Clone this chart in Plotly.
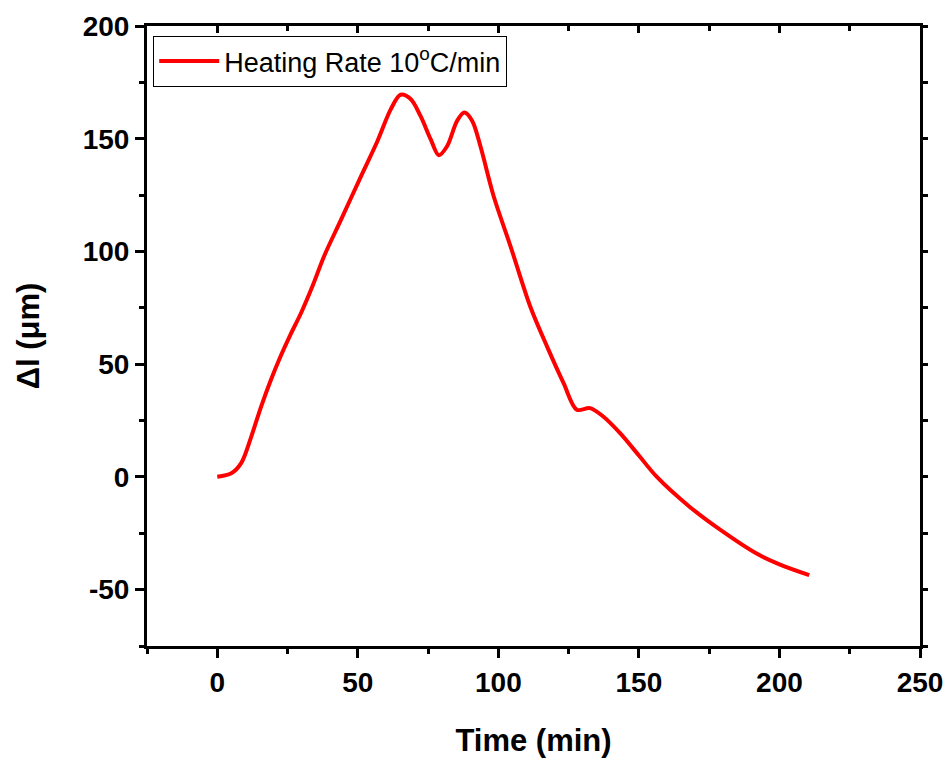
import plotly.graph_objects as go

time_min = [0, 5, 8.5, 12.1, 15.6, 19.1, 22, 26, 29.8, 34, 38, 44, 51, 57, 61.7, 65.2,
            68.8, 72.3, 75.9, 78.8, 81.8, 85.3, 87.9, 90.7, 93.6, 98.3, 104.3, 111.3,
            117.3, 123.2, 127.9, 132.6, 137.3, 143.3, 150, 156.3, 168, 179.9, 191.7,
            200, 210.6]
delta_l = [0.1, 1.6, 6.1, 17.9, 31.2, 43.1, 52, 63, 72.7, 85, 97.9, 114, 133, 149,
           163, 169.5, 167.6, 160.1, 149.8, 142.7, 146.8, 157.9, 161.6, 157.9, 146.8,
           124.6, 102.4, 75.7, 57.9, 41.6, 29.8, 30.5, 26.8, 19.4, 9.5, 0.1, -13.2,
           -24.3, -33.9, -38.8, -43.6]

x_ticks = [0, 50, 100, 150, 200, 250]
y_ticks = [-50, 0, 50, 100, 150, 200]
y_tick_text = ["-50", "0", "50", "100", "150", "200"]
series_name = "Heating Rate 10<sup>o</sup>C/min"

font_family = "Liberation Sans, Arial, sans-serif"

fig = go.Figure()
fig.add_trace(go.Scatter(x=time_min, y=delta_l, mode="lines", name=series_name,
                         line=dict(color="#ff0000", width=4, shape="spline", smoothing=0.9)))
# invisible trace to activate top/right axes
fig.add_trace(go.Scatter(x=[0], y=[0], xaxis="x2", yaxis="y2", mode="markers",
                         marker=dict(opacity=0), showlegend=False, hoverinfo="skip"))

common = dict(showgrid=False, zeroline=False, linecolor="black", linewidth=3, automargin=False)
fig.update_layout(
    width=951, height=758,
    margin=dict(l=147, r=31, t=26, b=112),
    plot_bgcolor="white", paper_bgcolor="white",
    font=dict(family=font_family, color="black"),
    xaxis=dict(range=[-25, 250], tickvals=x_ticks, ticks="outside", ticklen=9, tickwidth=3,
               tickfont=dict(size=28, family=font_family, weight="bold"),
               title=dict(text="<b>Time (min)</b>", font=dict(size=31), standoff=36),
               minor=dict(dtick=25, tick0=0, ticks="outside", ticklen=5, tickwidth=3, tickcolor="black"),
               tickcolor="black", **common),
    yaxis=dict(range=[-75, 200], tickvals=y_ticks, ticktext=y_tick_text, ticks="outside",
               ticklen=9, tickwidth=3,
               tickfont=dict(size=28, family=font_family, weight="bold"),
               title=dict(text="<b>Δl (μm)</b>", font=dict(size=31), standoff=34),
               minor=dict(dtick=25, tick0=0, ticks="outside", ticklen=5, tickwidth=3, tickcolor="black"),
               tickcolor="black", **common),
    xaxis2=dict(range=[-25, 250], overlaying="x", side="top", tickvals=x_ticks, ticks="inside",
                ticklen=7, tickwidth=3, showticklabels=False, tickcolor="black",
                minor=dict(dtick=25, tick0=0, ticks="inside", ticklen=5, tickwidth=3, tickcolor="black"),
                **common),
    yaxis2=dict(range=[-75, 200], overlaying="y", side="right", tickvals=y_ticks, ticks="outside",
                ticklen=5, tickwidth=3, showticklabels=False, tickcolor="black",
                minor=dict(dtick=25, tick0=0, ticks="outside", ticklen=5, tickwidth=3, tickcolor="black"),
                **common),
    showlegend=True,
    legend=dict(x=0.008, y=0.984, xanchor="left", yanchor="top",
                bordercolor="black", borderwidth=1, bgcolor="white",
                font=dict(size=27, family=font_family), itemwidth=60,
                tracegroupgap=0),
)

fig.write_html("out.html")
